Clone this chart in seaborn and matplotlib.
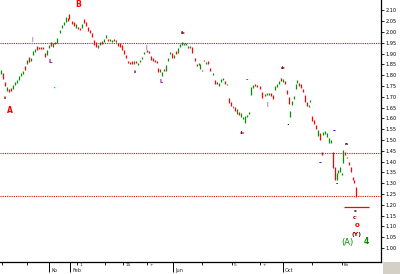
import matplotlib
matplotlib.use("Agg")
import matplotlib.pyplot as plt
import seaborn as sns
import pandas as pd
from matplotlib.patches import Rectangle

# ---- data -------------------------------------------------------------
day = [0.5, 1.5, 2.5, 3.5, 4.5, 5.5, 6.5, 7.5, 8.5, 9.5, 10.5, 11.5, 12.5, 13.5, 14.5, 15.5,
       16.5, 17.5, 18.5, 19.5, 20.5, 21.5, 22.5, 23.5, 24.5, 25.5, 26.5, 27.5, 28.5,
       30, 31, 32, 33, 34, 34.5, 36, 37, 38, 39, 40, 41, 42, 43, 44, 45, 46, 47, 48, 49,
       50, 51, 52, 53, 54, 55, 56, 57, 58, 59, 60, 61, 62, 63, 64, 65, 66, 67, 68, 69,
       70, 71, 72, 73.5, 74.5, 75.5, 76.5, 77.5, 78.5, 79, 80, 81, 82, 83, 84, 85, 86,
       87, 88, 89, 90, 91, 92, 93, 94, 95, 96, 97.5, 98.5, 99.5, 100, 101, 102, 103, 104,
       105, 106.5, 107.5, 108.5, 109.5, 110.5, 111.5, 112.5, 113.5, 114.5, 115.5, 116.5,
       117.5, 118.5, 119.5, 120.5, 121.5, 122.5, 123.5, 124.5, 125.5, 126.5, 127.5, 128.5,
       130, 131, 132.5, 133.5, 134.5, 135.5, 136.5, 137.5, 138.5, 139.5, 140.5, 141.5,
       142.5, 143.5, 144.5, 145, 146, 147, 148, 148.5, 149.5, 150.5, 151.5, 152.5, 153.5,
       154.5, 155, 156, 157, 158, 159, 160, 161.5, 162.5, 163.5, 164.5, 165.5, 161,
       166.5, 167.5, 168.5, 169, 170, 171, 171.5, 172.5, 173.5, 174.5, 175.5, 176.5, 177, 178]
updown = list("grrgrrggggggrgrg" "ggrrrrrggrgrg"
              "ggggrrrrgrrgrrrrrrrg" "grggrggrgrrrrrrrrgrg"
              "gggrrrrrrrggrgggr" "grgggggrgrrrggrrgr"
              "rgrrgggrgrrk" "rgrgggggggrr" "rrgggrrgggrg"
              "rrrgggggrrrrr" "ggrrrgrgggggr" "rrgggggrrrrrrr")
high = [1.824, 1.810, 1.768, 1.745, 1.736, 1.741, 1.754, 1.768, 1.778, 1.796, 1.810, 1.819,
        1.842, 1.870, 1.884, 1.879, 1.912, 1.921, 1.935, 1.930, 1.930, 1.930, 1.903, 1.917,
        1.940, 1.954, 1.949, 1.954, 1.972,
        2.009, 2.032, 2.046, 2.069, 2.065, 2.083, 2.051, 2.046, 2.037, 2.023, 2.018, 2.037,
        2.060, 2.046, 2.023, 2.009, 1.995, 1.963, 1.954, 1.940, 1.954, 1.958, 1.967, 1.986,
        1.967, 1.967, 1.963, 1.967, 1.963, 1.949, 1.949, 1.940, 1.917, 1.893, 1.866, 1.861,
        1.866, 1.866, 1.866, 1.856, 1.870, 1.884, 1.907, 1.917, 1.912, 1.889, 1.879, 1.870,
        1.866, 1.833, 1.829, 1.815, 1.829, 1.847, 1.879, 1.907, 1.903, 1.893, 1.912, 1.926,
        1.944, 1.954, 1.949, 1.949, 1.935, 1.935, 1.930, 1.879, 1.852, 1.856, 1.852, 1.824,
        1.870, 1.861, 1.866, 1.833, 1.810, 1.778, 1.768, 1.764, 1.782, 1.787, 1.773, 1.759,
        1.694, 1.676, 1.657, 1.653, 1.643, 1.630, 1.625, 1.606, 1.611, 1.616, 1.630, 1.745,
        1.754, 1.759, 1.754, 1.750, 1.722, 1.713, 1.717, 1.717, 1.717, 1.708, 1.750, 1.759,
        1.773, 1.787, 1.782, 1.773, 1.731, 1.699, 1.634, 1.680, 1.704, 1.759, 1.778, 1.764,
        1.759, 1.736, 1.708, 1.676, 1.662, 1.685, 1.611, 1.592, 1.569, 1.546, 1.532, 1.537,
        1.541, 1.532, 1.509, 1.500, 1.444, 1.444, 1.375, 1.347, 1.361, 1.375, 1.347, 1.454,
        1.444, 1.421, 1.398, 1.375, 1.329, 1.315, 1.282]
low = [1.805, 1.782, 1.750, 1.727, 1.722, 1.727, 1.736, 1.754, 1.764, 1.778, 1.796, 1.805,
       1.824, 1.852, 1.861, 1.866, 1.893, 1.907, 1.917, 1.921, 1.921, 1.921, 1.884, 1.893,
       1.926, 1.935, 1.930, 1.944, 1.949,
       1.995, 2.018, 2.032, 2.046, 2.051, 2.060, 2.037, 2.028, 2.018, 2.014, 2.009, 2.018,
       2.042, 2.028, 2.005, 1.995, 1.977, 1.940, 1.930, 1.926, 1.940, 1.944, 1.954, 1.972,
       1.958, 1.958, 1.954, 1.958, 1.954, 1.935, 1.930, 1.917, 1.898, 1.879, 1.856, 1.852,
       1.852, 1.852, 1.856, 1.847, 1.861, 1.875, 1.898, 1.907, 1.903, 1.870, 1.866, 1.861,
       1.856, 1.815, 1.815, 1.796, 1.819, 1.819, 1.866, 1.898, 1.879, 1.879, 1.898, 1.903,
       1.930, 1.940, 1.940, 1.940, 1.926, 1.926, 1.903, 1.866, 1.842, 1.847, 1.829, 1.819,
       1.866, 1.852, 1.852, 1.819, 1.801, 1.759, 1.759, 1.750, 1.768, 1.778, 1.759, 1.754,
       1.671, 1.657, 1.648, 1.634, 1.620, 1.616, 1.606, 1.597, 1.579, 1.606, 1.620, 1.708,
       1.741, 1.750, 1.745, 1.736, 1.694, 1.704, 1.708, 1.708, 1.704, 1.690, 1.731, 1.745,
       1.759, 1.773, 1.768, 1.759, 1.713, 1.667, 1.606, 1.662, 1.690, 1.736, 1.764, 1.750,
       1.741, 1.722, 1.676, 1.657, 1.653, 1.676, 1.588, 1.574, 1.551, 1.518, 1.500, 1.523,
       1.528, 1.514, 1.486, 1.486, 1.430, 1.370, 1.315, 1.315, 1.347, 1.352, 1.338, 1.393,
       1.430, 1.417, 1.384, 1.352, 1.315, 1.301, 1.236]

lines_lvl = [1.949, 1.440, 1.241]          # horizontal dotted levels
target_lvl = 1.190                          # red target segment
target_span = [172, 184.5]

yticks = [round(1.00 + 0.05 * k, 2) for k in range(23)]
xmajor = [24.5, 35, 86.5, 141.5]
xmajor_lbl = ["Ko", "Feb", "Jun", "Oct"]
xminor = [1, 13.5, 38.5, 52.5, 61.5, 73.5, 101, 116, 130, 156, 171]
xminor_lbl = ["", "", "1", "", "15", "+", "", "5", "+", "", "Ko"]

# wave labels: text, day, price, colour, size, weight
labels = [
    ("A", 5, 1.636, "#ff0000", 5.5, "bold"),
    ("B", 39, 2.127, "#ff0000", 5.5, "bold"),
    ("ii", 2.5, 1.694, "#800000", 3.2, "bold"),
    ("ii", 67.5, 1.815, "#800000", 3.2, "bold"),
    ("ib", 91.5, 1.997, "#800000", 3.2, "bold"),
    (":b", 121, 1.532, "#800000", 3.2, "bold"),
    ("ıb", 141.5, 1.835, "#800000", 3.2, "bold"),
    ("c:", 177.5, 1.139, "#800000", 3.5, "bold"),
    ("o", 178.5, 1.104, "#ff0000", 5.0, "bold"),
    ("(Y)", 178.5, 1.062, "#800000", 4.5, "bold"),
    ("(A)", 173.5, 1.023, "#008c00", 6.0, "normal"),
    ("4", 183, 1.028, "#008c00", 5.5, "bold"),
    ("|", 16, 1.963, "#800080", 3.5, "bold"),
    ("L", 25, 1.861, "#800080", 4.0, "bold"),
    ("|", 73, 1.930, "#800080", 3.5, "bold"),
    ("L", 80.5, 1.770, "#800080", 3.5, "bold"),
    ("–", 123.5, 1.778, "#800080", 3.5, "bold"),
    ("|", 133.5, 1.662, "#800080", 3.5, "bold"),
    ("·", 27, 1.736, "#00ff00", 6.0, "bold"),
    ("·", 144, 1.569, "#000000", 5.0, "bold"),
    ("-", 160, 1.393, "#0000ff", 5.0, "bold"),
    ("-", 167, 1.541, "#0000ff", 5.0, "bold"),
    ("a", 173, 1.483, "#000000", 3.2, "bold"),
    ("-", 168.5, 1.296, "#000000", 4.0, "bold"),
    ("x", 177.5, 1.171, "#000000", 3.2, "bold"),
]

# ---- figure -----------------------------------------------------------
sns.set_theme(style="white")
plt.rcParams["font.family"] = ["DejaVu Sans"]

fig = plt.figure(figsize=(4.0, 2.74), dpi=100)
fig.patch.set_facecolor("white")
ax = fig.add_axes([0, 12 / 274, 381 / 400, 262 / 274])
ax.set_facecolor("white")

df = pd.DataFrame({"day": day, "high": high, "low": low, "dir": updown})
colmap = {"g": "#009000", "r": "#ff0000", "k": "#808080"}
ax.vlines(df["day"], df["low"], df["high"], colors=df["dir"].map(colmap), linewidth=0.9)

for lv in lines_lvl:
    ax.axhline(lv, color="#ff0000", linestyle=(0, (1, 1)), linewidth=0.8)
ax.hlines(target_lvl, target_span[0], target_span[1], color="#ff0000", linewidth=0.9)

for t, x, y, c, s, w in labels:
    ax.text(x, y, t, color=c, fontsize=s, fontweight=w, ha="center", va="center")

ax.set_xlim(0, 190.5)
ax.set_ylim(0.935, 2.148)

# axes styling
sns.despine(ax=ax, left=True, top=True, right=False, bottom=False)
for sp in ("right", "bottom"):
    ax.spines[sp].set_color("black")
    ax.spines[sp].set_linewidth(0.9)
ax.yaxis.tick_right()
ax.set_yticks(yticks)
ax.set_yticklabels([f"{v:.2f}" for v in yticks])
ax.tick_params(axis="y", which="major", right=True, left=False, direction="out",
               length=2.5, width=0.6, colors="black", labelsize=3.6, pad=1)
ax.set_xticks(xmajor)
ax.set_xticklabels([])
ax.set_xticks(xminor, minor=True)
ax.tick_params(axis="x", which="major", bottom=True, direction="out", length=7,
               width=0.7, colors="black")
ax.tick_params(axis="x", which="minor", bottom=True, direction="out", length=2.5,
               width=0.6, colors="black")
for x, l in zip(xminor, xminor_lbl):
    ax.annotate(l, (x, 0), xycoords=("data", "axes fraction"), xytext=(1.5, -2.4),
                textcoords="offset points", fontsize=3.1, ha="left", va="center")
for x, l in zip(xmajor, xmajor_lbl):
    ax.annotate(l, (x, 0), xycoords=("data", "axes fraction"), xytext=(1.5, -6.4),
                textcoords="offset points", fontsize=3.6, ha="left", va="center")
ax.grid(False)

fig.patches.append(Rectangle((383 / 400, 0), 17 / 400, 12 / 274, transform=fig.transFigure,
                             facecolor="#d4d0c8", edgecolor="none"))

fig.savefig("out.png", dpi=100)
